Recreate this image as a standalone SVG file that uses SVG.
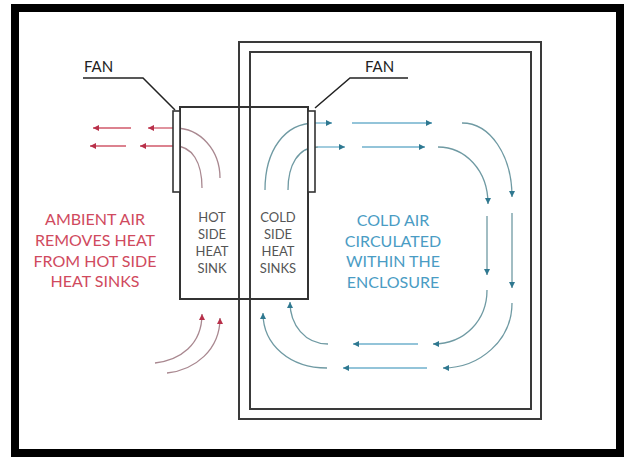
<svg xmlns="http://www.w3.org/2000/svg" width="629" height="457" viewBox="0 0 629 457">
<style>
.frame{fill:none;stroke:#000;stroke-width:8}
.wall{fill:none;stroke:#3a3a3a;stroke-width:2}
.box{fill:none;stroke:#333;stroke-width:2}
.fan{fill:#fff;stroke:#333;stroke-width:1.6}
.lead{fill:none;stroke:#222;stroke-width:1.5}
.hot{fill:none;stroke:#d0586a;stroke-width:1.3}
.hotc{fill:none;stroke:#a98890;stroke-width:1.3}
.cold{fill:none;stroke:#6fb0cc;stroke-width:1.3}
.coldc{fill:none;stroke:#6f9aa3;stroke-width:1.3}
.lbl{font-family:Lato,"Liberation Sans",sans-serif;font-size:15px;fill:#222}
.sink{font-family:Lato,"Liberation Sans",sans-serif;font-size:13px;fill:#555;text-anchor:middle}
.red{font-family:Lato,"Liberation Sans",sans-serif;font-size:16px;fill:#d04a5e;text-anchor:middle}
.blue{font-family:Lato,"Liberation Sans",sans-serif;font-size:16px;fill:#4a9cc4;text-anchor:middle}
</style>
<defs>
<marker id="ah" markerUnits="userSpaceOnUse" markerWidth="7" markerHeight="7" refX="6" refY="3" orient="auto"><path d="M0,0 L6,3 L0,6 z" fill="#b8304a"/></marker>
<marker id="ac" markerUnits="userSpaceOnUse" markerWidth="7" markerHeight="7" refX="6" refY="3" orient="auto"><path d="M0,0 L6,3 L0,6 z" fill="#2f7890"/></marker>
</defs>
<rect width="629" height="457" fill="#fff"/>
<rect class="frame" x="15" y="8" width="605" height="445"/>
<g id="enclosure">
<rect class="wall" x="239" y="42" width="302" height="377"/>
<rect class="wall" x="250" y="52" width="281" height="357"/>
</g>
<g id="connectors">
<path class="hotc" d="M220 178 C220 150 200 128 175 128"/>
<path class="hot" d="M175 128 L148 128" marker-end="url(#ah)"/>
<path class="hot" d="M131 128 L93 128" marker-end="url(#ah)"/>
<path class="hotc" d="M202 188 C202 162 192 146 175 146"/>
<path class="hot" d="M175 146 L140 146" marker-end="url(#ah)"/>
<path class="hot" d="M126 146 L90 146" marker-end="url(#ah)"/>
<path class="hotc" d="M155 363 C180 360 202 345 202 314" marker-end="url(#ah)"/>
<path class="hotc" d="M167 373 C195 370 220 350 220 318" marker-end="url(#ah)"/>
<path class="coldc" d="M265 190 C265 150 285 123 315 123"/>
<path class="cold" d="M315 123 L332 123" marker-end="url(#ac)"/>
<path class="cold" d="M352 123 L432 123" marker-end="url(#ac)"/>
<path class="coldc" d="M462 123 C490 123 512 155 512 197" marker-end="url(#ac)"/>
<path class="coldc" d="M512 213 L512 288" marker-end="url(#ac)"/>
<path class="coldc" d="M512 303 C512 340 480 368 443 368" marker-end="url(#ac)"/>
<path class="cold" d="M427 368 L343 368" marker-end="url(#ac)"/>
<path class="coldc" d="M327 368 C290 368 263 345 263 313" marker-end="url(#ac)"/>
<path class="coldc" d="M288 190 C288 165 298 147 318 147"/>
<path class="cold" d="M318 147 L345 147" marker-end="url(#ac)"/>
<path class="cold" d="M362 147 L425 147" marker-end="url(#ac)"/>
<path class="coldc" d="M438 147 C465 147 488 170 488 204" marker-end="url(#ac)"/>
<path class="coldc" d="M487 216 L487 275" marker-end="url(#ac)"/>
<path class="coldc" d="M487 290 C487 320 465 344 433 344" marker-end="url(#ac)"/>
<path class="cold" d="M418 344 L353 344" marker-end="url(#ac)"/>
<path class="coldc" d="M328 344 C305 344 290 325 290 302" marker-end="url(#ac)"/>
<path class="lead" d="M83 78 L143 78 L175 110"/>
<path class="lead" d="M408 78 L350 78 L315 108"/>
</g>
<g id="heatsink">
<rect class="box" x="180" y="107" width="128" height="192"/>
</g>
<g id="fan-left">
<rect class="fan" x="173" y="111" width="7" height="81"/>
<text class="lbl" x="84" y="72">FAN</text>
</g>
<g id="fan-right">
<rect class="fan" x="308" y="111" width="7" height="81"/>
<text class="lbl" x="365" y="72">FAN</text>
</g>
<g id="hot-sink-label">
<text class="sink" x="212" y="222">HOT</text>
<text class="sink" x="212" y="239">SIDE</text>
<text class="sink" x="212" y="256">HEAT</text>
<text class="sink" x="212" y="273">SINK</text>
</g>
<g id="cold-sink-label">
<text class="sink" x="278" y="222">COLD</text>
<text class="sink" x="278" y="239">SIDE</text>
<text class="sink" x="278" y="256">HEAT</text>
<text class="sink" x="278" y="273">SINKS</text>
</g>
<g id="ambient-label">
<text class="red" x="95" y="225">AMBIENT AIR</text>
<text class="red" x="95" y="246">REMOVES HEAT</text>
<text class="red" x="95" y="267">FROM HOT SIDE</text>
<text class="red" x="95" y="287">HEAT SINKS</text>
</g>
<g id="cold-label">
<text class="blue" x="393" y="226">COLD AIR</text>
<text class="blue" x="393" y="247">CIRCULATED</text>
<text class="blue" x="393" y="267">WITHIN THE</text>
<text class="blue" x="393" y="288">ENCLOSURE</text>
</g>
</svg>
